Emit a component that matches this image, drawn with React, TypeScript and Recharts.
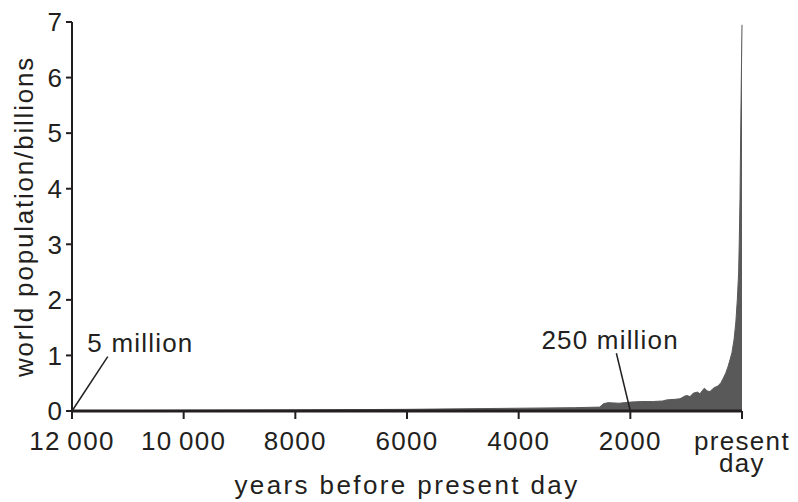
import { AreaChart, Area, XAxis, YAxis, ReferenceLine, ReferenceDot } from 'recharts';

const INK = '#231f20';
const FONT = '"Liberation Sans", Arial, Helvetica, sans-serif';

// years before present day
const YEARS_BP = [
  12000, 11000, 10000, 9000, 8000, 7000, 6000, 5000, 4000, 3000, 2550, 2480, 2400, 2200,
  2000, 1800, 1600, 1420, 1350, 1200, 1110, 1020, 990, 930, 874, 800, 753, 700, 676, 620,
  574, 500, 430, 377, 340, 292, 250, 215, 180, 143, 110, 84, 60, 50, 36, 24, 12, 0,
];
// world population, billions
const POPULATION = [
  0.005, 0.008, 0.012, 0.016, 0.02, 0.025, 0.03, 0.04, 0.05, 0.06, 0.07, 0.13, 0.15, 0.14,
  0.16, 0.17, 0.17, 0.18, 0.2, 0.21, 0.22, 0.27, 0.28, 0.26, 0.32, 0.34, 0.31, 0.38, 0.41, 0.36,
  0.35, 0.42, 0.45, 0.51, 0.58, 0.68, 0.8, 0.92, 1.05, 1.28, 1.6, 2.0, 2.5, 3.0, 3.8, 5.0, 6.0, 6.95,
];

const X_TICKS = [12000, 10000, 8000, 6000, 4000, 2000, 0];
const X_TICK_LABELS = ['12\u2009000', '10\u2009000', '8000', '6000', '4000', '2000', 'present\nday'];
const Y_TICKS = [0, 1, 2, 3, 4, 5, 6, 7];

const NOTE_TEXT = ['5 million', '250 million'];
const NOTE_TEXT_YEARS = [11725, 3593];
const NOTE_TEXT_VALUES = [1.067, 1.11];
const NOTE_LINE_FROM = [12000, 2000];
const NOTE_LINE_TO_YEARS = [11360, 2250];
const NOTE_LINE_TO_VALUES = [0.98, 1.04];

const data = YEARS_BP.map((yearsBP, i) => ({ yearsBP, population: POPULATION[i] }));

function XTick({ x, y, payload }: any) {
  const idx = X_TICKS.indexOf(payload.value);
  const lines = (X_TICK_LABELS[idx] ?? String(payload.value)).split('\n');
  return (
    <text x={x} y={y} textAnchor="middle" fill={INK} fontFamily={FONT} fontSize={26} letterSpacing={1.3}>
      {lines.map((line, i) => (
        <tspan key={i} x={x} dy={i === 0 ? 29 : 22}>{line}</tspan>
      ))}
    </text>
  );
}

export default function App() {
  return (
    <div style={{ position: 'absolute', left: 0, top: 0, width: 798, height: 502, background: '#fff' }}>
      <AreaChart width={798} height={502} data={data} margin={{ top: 22, right: 56, left: 0, bottom: 0 }}>
        <XAxis
          type="number"
          dataKey="yearsBP"
          domain={[0, 12000]}
          reversed
          ticks={X_TICKS}
          interval={0}
          height={91}
          tickSize={8}
          tickMargin={2}
          axisLine={{ stroke: INK, strokeWidth: 3 }}
          tickLine={{ stroke: INK, strokeWidth: 2 }}
          tick={<XTick />}
          label={{
            content: ({ viewBox }: any) => (
              <text x={viewBox.x + viewBox.width / 2} y={494} textAnchor="middle" fill={INK}
                fontFamily={FONT} fontSize={26} letterSpacing={2.4}>
                years before present day
              </text>
            ),
          }}
        />
        <YAxis
          type="number"
          domain={[0, 7]}
          ticks={Y_TICKS}
          width={72}
          tickSize={6}
          tickMargin={4}
          axisLine={{ stroke: INK, strokeWidth: 2 }}
          tickLine={{ stroke: INK, strokeWidth: 2 }}
          tick={{ fill: INK, fontFamily: FONT, fontSize: 26 }}
          label={{
            content: ({ viewBox }: any) => (
              <text transform={`translate(33, ${viewBox.y + viewBox.height / 2}) rotate(-90)`}
                textAnchor="middle" fill={INK} fontFamily={FONT} fontSize={26} letterSpacing={1.8}>
                world population/billions
              </text>
            ),
          }}
        />
        <Area
          type="linear"
          dataKey="population"
          fill="#595959"
          fillOpacity={1}
          stroke="#595959"
          strokeWidth={1}
          dot={false}
          activeDot={false}
          isAnimationActive={false}
        />
        {NOTE_TEXT.map((_, i) => (
          <ReferenceLine
            key={`l${i}`}
            segment={[{ x: NOTE_LINE_FROM[i], y: 0 }, { x: NOTE_LINE_TO_YEARS[i], y: NOTE_LINE_TO_VALUES[i] }]}
            stroke={INK}
            strokeWidth={1.5}
            ifOverflow="visible"
          />
        ))}
        {NOTE_TEXT.map((text, i) => (
          <ReferenceDot
            key={`t${i}`}
            x={NOTE_TEXT_YEARS[i]}
            y={NOTE_TEXT_VALUES[i]}
            r={0}
            fill="none"
            stroke="none"
            ifOverflow="visible"
            label={{
              content: ({ viewBox }: any) => (
                <text x={viewBox.x} y={viewBox.y} fill={INK} fontFamily={FONT} fontSize={26} letterSpacing={1.2}>
                  {text}
                </text>
              ),
            }}
          />
        ))}
      </AreaChart>
    </div>
  );
}
